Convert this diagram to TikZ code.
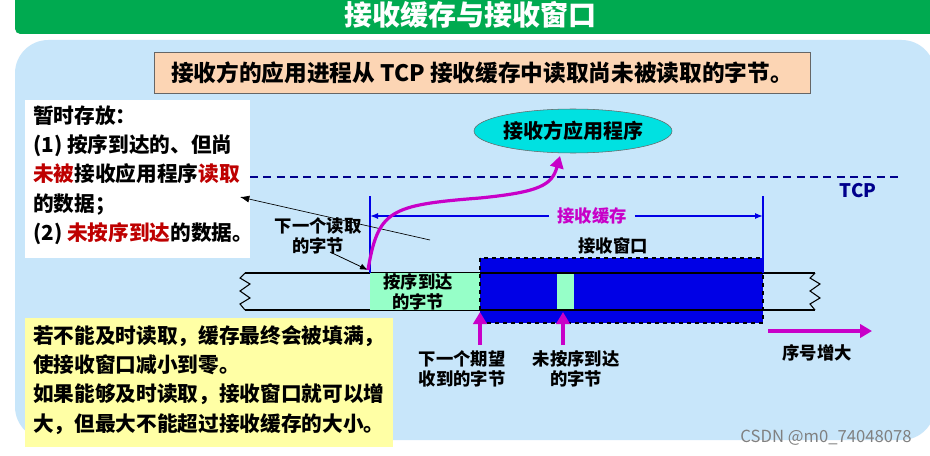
\documentclass[tikz,border=0pt]{standalone}
\usepackage{fontspec}
\setmainfont{Noto Sans CJK SC}
\usetikzlibrary{shapes.geometric,arrows.meta}
\definecolor{titlegreen}{RGB}{0,170,80}
\definecolor{panelblue}{RGB}{200,230,250}
\definecolor{peach}{RGB}{252,213,180}
\definecolor{aqua}{RGB}{150,255,200}
\definecolor{winblue}{RGB}{0,0,230}
\definecolor{mag}{RGB}{200,0,200}
\definecolor{navy}{RGB}{0,0,140}
\definecolor{dred}{RGB}{190,0,0}
\definecolor{yel}{RGB}{255,255,165}
\definecolor{cyanf}{RGB}{0,225,225}
\tikzset{lbl/.style={font=\bfseries\fontsize{13}{15}\selectfont,align=center,inner sep=0},
 magarrow/.style={mag,line width=2.4pt,-{Triangle[length=9pt,width=10pt]}}}
\begin{document}
\begin{tikzpicture}[x=0.75pt,y=-0.75pt]
\useasboundingbox (0,0) rectangle (930,456);
\fill[white] (0,0) rectangle (930,456);
% title
\fill[titlegreen,rounded corners=4pt] (15,-10) rectangle (935,34);
\node[white,font=\bfseries\fontsize{21}{23}\selectfont] (title) at (470,15) {接收缓存与接收窗口};
% panel
\fill[panelblue,rounded corners=25pt] (15,40) rectangle (935,440);
% top box
\node[draw=black!60,fill=peach,minimum width=492pt,minimum height=31pt,font=\bfseries\fontsize{17}{19}\selectfont] (top) at (482,73) {接收方的应用进程从 TCP 接收缓存中读取尚未被读取的字节。};
% white box
\fill[white] (25,100) rectangle (250,258);
\node[lbl,align=left,anchor=north west,font=\bfseries\fontsize{15.5}{22}\selectfont] (wtxt) at (33,105)
 {暂时存放：\\(1) 按序到达的、但尚\\{\color{dred}未被}接收应用程序{\color{dred}读取}\\的数据；\\(2) {\color{dred}未按序到达}的数据。};
% ellipse
\node[ellipse,draw=black!60,fill=cyanf,minimum width=142pt,minimum height=33pt,inner sep=0,font=\bfseries\fontsize{15}{17}\selectfont] (app) at (573,131) {接收方应用程序};
% tcp line
\draw[navy,line width=1.5pt,dash pattern=on 6pt off 4pt] (250,177) -- (900,177);
\node[navy,lbl,font=\bfseries\fontsize{14}{16}\selectfont] (tcp) at (858,191) {TCP};
% strip
\draw[line width=1.2pt] (245,273) -- (815,273) (245,310) -- (815,310);
\draw[line width=0.8pt] (245,273) -- (240,278) -- (250,284) -- (240,291) -- (250,298) -- (240,304) -- (245,310);
\draw[line width=0.8pt] (815,273) -- (810,278) -- (820,284) -- (810,291) -- (820,298) -- (810,304) -- (815,310);
\fill[aqua] (370,273) rectangle (480,310);
\node[lbl] (inorder) at (418,292) {按序到达\\的字节};
\draw[fill=winblue,dashed,line width=0.8pt] (480,258) rectangle (763,323);
\draw[line width=1.2pt,black] (480,273) -- (763,273) (480,310) -- (763,310);
\fill[aqua] (557,273.6) rectangle (574,309.4);
\node[lbl] (win) at (613,246) {接收窗口};
% buffer
\draw[winblue,line width=1pt] (370,196) -- (370,273) (763,196) -- (763,273);
\node[lbl,mag] (buf) at (592,216) {接收缓存};
\draw[winblue,line width=1pt,-{Latex[length=6pt]}] (buf.west) ++(-8,0) -- (370,216);
\draw[winblue,line width=1pt,-{Latex[length=6pt]}] (buf.east) ++(8,0) -- (763,216);
% thin pointer to white box
\coordinate (pt) at (430,240);
\draw[-{Latex[length=7pt]},line width=0.5pt] (pt) -- (240,197);
% next read
\node[lbl] (nextread) at (318,236) {下一个读取\\的字节};
\coordinate (rd) at (368,270);
\draw[-{Latex[length=6pt]},line width=0.6pt] (330,252) -- (rd);
% curve
\draw[magarrow] (rd) .. controls (378,210) and (390,205) .. (480,198) .. controls (540,192) and (552,185) .. (560,156);
% bottom arrows
\draw[magarrow] (480,345) -- (480,312);
\draw[magarrow] (563,345) -- (563,312);
\node[lbl] (nexp) at (462,369) {下一个期望\\收到的字节};
\node[lbl] (unord) at (576,369) {未按序到达\\的字节};
\draw[magarrow] (768,331) -- (872,331);
\node[lbl] (seq) at (817,353) {序号增大};
% yellow box
\fill[yel] (25,318) rectangle (393,447);
\node[lbl,align=left,anchor=north west,font=\bfseries\fontsize{15.5}{22}\selectfont] (ytxt) at (33,325)
 {若不能及时读取，缓存最终会被填满，\\使接收窗口减小到零。\\如果能够及时读取，接收窗口就可以增\\大，但最大不能超过接收缓存的大小。};
\node[gray,font=\fontsize{12.5}{14}\selectfont] (wm) at (826,438) {CSDN @m0\_74048078};
\end{tikzpicture}
\end{document}
